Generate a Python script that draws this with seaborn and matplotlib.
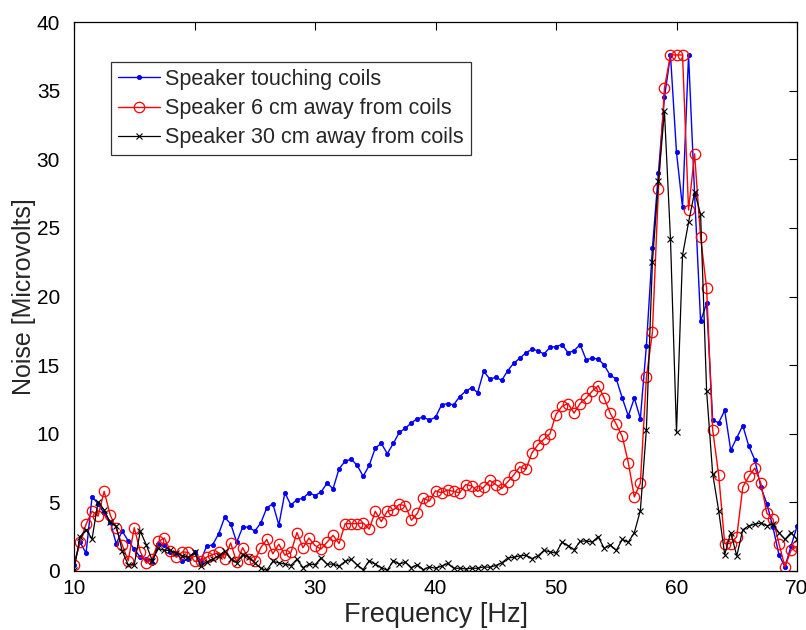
import numpy as np
import pandas as pd
import matplotlib
matplotlib.use("Agg")
import matplotlib.pyplot as plt
import seaborn as sns

freq = [10 + 0.5 * i for i in range(121)]

touching = [
    0.45, 2.1, 1.3, 5.4, 4.9, 4.2, 3.6, 2.0, 2.9, 2.2,
    1.6, 1.0, 0.9, 0.6, 2.0, 1.9, 1.4, 1.3, 0.7, 0.9,
    1.4, 0.7, 1.8, 1.9, 2.7, 3.9, 3.45, 2.1, 3.2, 3.2,
    2.9, 3.5, 4.6, 4.9, 3.35, 5.7, 4.8, 5.2, 5.3, 5.7,
    5.5, 5.75, 6.4, 6.0, 7.45, 8.0, 8.15, 7.7, 6.9, 7.7,
    8.95, 9.3, 8.55, 9.3, 10.1, 10.4, 10.8, 11.1, 11.2, 11.0,
    11.2, 12.1, 12.2, 12.1, 12.7, 13.1, 13.35, 13.0, 14.55, 14.0,
    14.1, 13.9, 14.6, 15.15, 15.5, 15.9, 16.15, 16.05, 15.8, 16.3,
    16.35, 16.5, 15.9, 16.05, 16.5, 15.4, 15.5, 15.45, 15.0, 14.25,
    14.0, 12.6, 11.3, 12.6, 11.1, 16.4, 23.5, 29.0, 34.5, 37.6,
    30.5, 26.5, 37.6, 27.5, 18.2, 19.5, 11.0, 10.8, 11.7, 8.8,
    9.7, 10.6, 9.1, 8.1, 6.1, 4.9, 3.2, 1.2, 0.3, 1.8,
    3.25,
]

six_cm = [
    0.45, 2.1, 3.4, 4.35, 4.0, 5.8, 4.1, 3.1, 1.9, 0.75,
    3.15, 1.4, 0.56, 0.9, 2.15, 2.4, 1.45, 1.0, 1.4, 1.35,
    0.7, 0.75, 1.0, 1.2, 1.35, 0.9, 2.05, 0.65, 1.7, 0.85,
    0.75, 1.7, 2.3, 1.25, 1.95, 1.15, 1.35, 2.8, 1.7, 2.4,
    1.85, 1.6, 2.1, 2.6, 2.0, 3.45, 3.45, 3.45, 3.5, 3.05,
    4.35, 3.6, 4.35, 4.45, 4.85, 4.75, 3.7, 4.2, 5.3, 5.1,
    5.85, 5.7, 5.9, 5.8, 5.7, 6.3, 6.2, 5.8, 6.1, 6.6,
    6.3, 6.0, 6.5, 7.0, 7.6, 7.4, 8.6, 9.2, 9.6, 10.0,
    11.4, 12.0, 12.2, 11.5, 12.2, 12.6, 13.1, 13.5, 12.6, 11.5,
    10.7, 9.8, 7.9, 5.4, 6.4, 14.1, 17.4, 27.8, 35.2, 37.6,
    37.6, 37.6, 26.3, 30.4, 24.3, 20.6, 10.3, 7.0, 2.0, 2.0,
    2.5, 6.1, 6.9, 7.5, 6.4, 4.2, 3.8, 2.0, 0.3, 1.5,
    1.8,
]

thirty_cm = [
    0.1, 2.5, 3.0, 2.35, 5.05, 4.45, 3.55, 3.3, 1.45, 0.45,
    0.45, 2.9, 1.9, 0.75, 1.65, 1.5, 1.5, 1.3, 1.1, 1.0,
    1.35, 0.4, 0.65, 0.85, 1.1, 1.45, 0.9, 0.6, 1.2, 1.0,
    0.6, 0.2, 0.05, 0.7, 0.6, 0.5, 0.4, 0.85, 0.25, 0.5,
    0.45, 0.95, 0.5, 0.5, 0.35, 0.7, 0.85, 0.45, 0.1, 0.75,
    0.5, 0.25, 0.05, 0.75, 0.5, 0.65, 0.25, 0.45, 0.1, 0.3,
    0.2, 0.35, 0.55, 0.2, 0.2, 0.15, 0.2, 0.2, 0.3, 0.27,
    0.4, 0.6, 0.95, 1.0, 1.1, 1.15, 0.9, 1.1, 1.5, 1.4,
    1.3, 2.1, 1.85, 1.55, 2.15, 2.2, 2.1, 2.5, 1.65, 1.9,
    1.5, 2.3, 2.1, 2.8, 4.4, 10.3, 22.5, 28.4, 33.5, 24.2,
    10.1, 23.0, 25.4, 27.6, 26.0, 13.1, 7.1, 4.4, 1.2, 2.8,
    1.1, 3.0, 3.3, 3.4, 3.5, 3.3, 3.4, 2.8, 2.3, 2.8,
    2.3,
]

labels = ["Speaker touching coils", "Speaker 6 cm away from coils",
          "Speaker 30 cm away from coils"]
x_ticks = [10, 20, 30, 40, 50, 60, 70]
y_ticks = [0, 5, 10, 15, 20, 25, 30, 35, 40]

sns.set_style("white")
plt.rcParams["font.family"] = ["Liberation Sans", "DejaVu Sans"]

fig = plt.figure(figsize=(8.06, 6.3), dpi=100)
ax = fig.add_axes([74 / 806, 1 - 571 / 630, (797 - 74) / 806, (571 - 22) / 630])

df = pd.DataFrame({"freq": freq, "t": touching, "s": six_cm, "h": thirty_cm})

sns.lineplot(data=df, x="freq", y="t", ax=ax, color="#0000ff", marker=".",
             markersize=6, linewidth=1.0, markeredgewidth=0.6,
             markeredgecolor="#0000ff", markerfacecolor="#0000ff", label=labels[0])
sns.lineplot(data=df, x="freq", y="s", ax=ax, color="#ff0000", marker="o",
             markersize=7.5, markerfacecolor="none", markeredgecolor="#ff0000",
             markeredgewidth=0.9, linewidth=1.0, label=labels[1])
sns.lineplot(data=df, x="freq", y="h", ax=ax, color="black", marker="x",
             markersize=4.5, markeredgewidth=0.8, markeredgecolor="black",
             linewidth=0.9, label=labels[2])

ax.set_xlim(10, 70)
ax.set_ylim(0, 40)
ax.set_xticks(x_ticks)
ax.set_yticks(y_ticks)
ax.tick_params(direction="in", length=6, width=0.8, top=True, right=True,
               labelsize=15, colors="black")
ax.tick_params(axis="y", pad=10)
ax.tick_params(axis="x", pad=6)
for s in ax.spines.values():
    s.set_color("black")
    s.set_linewidth(0.9)

ax.set_xlabel("Frequency [Hz]", fontsize=19.5, labelpad=3)
ax.set_ylabel("Noise [Microvolts]", fontsize=18)
ax.yaxis.set_label_coords(-0.052, 0.5)

leg = ax.legend(loc="upper left", bbox_to_anchor=(0.051, 0.927), borderaxespad=0,
                fontsize=15.5, frameon=True, fancybox=False, handlelength=1.95,
                handletextpad=0.25, labelspacing=0.38, borderpad=0.32)
leg.get_frame().set_edgecolor("black")
leg.get_frame().set_linewidth(0.9)

fig.savefig("out.png", dpi=100)
